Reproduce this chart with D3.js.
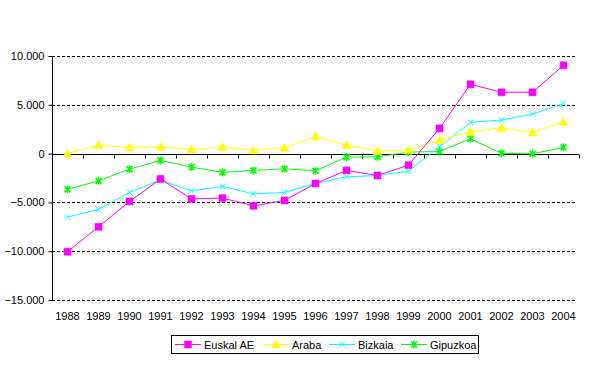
<!DOCTYPE html>
<html>
<head>
<meta charset="utf-8">
<script src="https://cdn.jsdelivr.net/npm/d3@7"></script>
<style>
  body { margin: 0; background: #fff; }
  text { font-family: "Liberation Sans", Arial, sans-serif; font-size: 11px; fill: #000; }
</style>
</head>
<body>
<div id="chart-area"></div>
<script>
let years = ["1988","1989","1990","1991","1992","1993","1994","1995","1996",
             "1997","1998","1999","2000","2001","2002","2003","2004"]

let euskalAE = [-10050, -7500, -4900, -2600, -4640, -4560, -5350, -4800, -3060,
                -1720, -2240, -1180, 2580, 7100, 6280, 6280, 9050]
let araba    = [0, 870, 640, 700, 430, 670, 330, 600, 1760,
                870, 260, 360, 1380, 2240, 2650, 2170, 3260]
let bizkaia  = [-6510, -5720, -3980, -2720, -3810, -3370, -4120, -3980, -3060,
                -2380, -2240, -1800, 700, 3200, 3440, 4050, 5110]
let gipuzkoa = [-3670, -2790, -1590, -700, -1380, -1930, -1720, -1560, -1760,
                -360, -330, 150, 220, 1520, 20, -20, 640]

let yTicks = [-15000, -10000, -5000, 0, 5000, 10000]

let series = [
    { name: "Euskal AE", values: euskalAE, color: "#ff00ff", marker: "square" },
    { name: "Araba", values: araba, color: "#ffff00", marker: "triangle" },
    { name: "Bizkaia", values: bizkaia, color: "#00ffff", marker: "cross" },
    { name: "Gipuzkoa", values: gipuzkoa, color: "#00ff00", marker: "star" }
]

let width = 596
let height = 365

let svg = d3.select("#chart-area")
            .append('svg')
            .attr('width', width)
            .attr('height', height)

let xScale = d3.scaleBand()
                .domain(years)
                .range([52, 579])

let yScale = d3.scaleLinear()
                .domain([-15000, 10000])
                .range([300, 56])

let fmt = d3.formatLocale({ decimal: ",", thousands: ".", grouping: [3], currency: ["", ""] }).format(",")

// gridlines
svg.selectAll(".grid")
    .data(yTicks.filter(d => d != 0))
    .enter()
    .append('line')
    .attr('x1', 52)
    .attr('x2', 576)
    .attr('y1', d => Math.round(yScale(d)) + 0.5)
    .attr('y2', d => Math.round(yScale(d)) + 0.5)
    .attr('stroke', '#000')
    .attr('stroke-dasharray', '3,2')
    .attr('shape-rendering', 'crispEdges')

// y axis
let yAxis = d3.axisLeft(yScale)
                .tickValues(yTicks)
                .tickSize(4)
                .tickPadding(4)
                .tickFormat(fmt)

let yG = svg.append('g')
    .attr('transform', 'translate(52.5,0)')
    .call(yAxis)
yG.select('.domain').attr('stroke', '#000').attr('d', 'M0,' + yScale(-15000) + 'V' + yScale(10000))
yG.selectAll('.tick text').attr('font-size', 11).attr('font-family', '"Liberation Sans", Arial, sans-serif').attr('fill', '#000')

// x axis along zero
let xAxis = d3.axisBottom(xScale)
                .tickSize(0)
                .tickFormat('')

let y0 = Math.round(yScale(0)) + 0.5
let xG = svg.append('g')
    .attr('transform', 'translate(0,' + y0 + ')')
    .call(xAxis)
xG.select('.domain').attr('stroke', '#000').attr('d', 'M52,0H579')

svg.selectAll('.xtick')
    .data(years.concat(["end"]))
    .enter()
    .append('line')
    .attr('x1', (d, i) => Math.round(52 + i * xScale.step()) + 0.5)
    .attr('x2', (d, i) => Math.round(52 + i * xScale.step()) + 0.5)
    .attr('y1', y0)
    .attr('y2', y0 + 4)
    .attr('stroke', '#000')

svg.selectAll('.xlabel')
    .data(years)
    .enter()
    .append('text')
    .attr('x', d => xScale(d) + xScale.bandwidth() / 2)
    .attr('y', 320)
    .attr('text-anchor', 'middle')
    .text(d => d)

function markerPath(type, s) {
    if (type == "square") return 'M' + (-s) + ',' + (-s) + 'h' + (2 * s) + 'v' + (2 * s) + 'h' + (-2 * s) + 'Z'
    if (type == "triangle") return 'M0,' + (-s - 1) + 'L' + (s + 1) + ',' + s + 'L' + (-s - 1) + ',' + s + 'Z'
    if (type == "cross") return 'M' + (-s) + ',' + (-s) + 'L' + s + ',' + s + 'M' + (-s) + ',' + s + 'L' + s + ',' + (-s)
    return 'M' + (-s) + ',' + (-s) + 'L' + s + ',' + s + 'M' + (-s) + ',' + s + 'L' + s + ',' + (-s) + 'M0,' + (-s - 1) + 'V' + (s + 1)
}

function drawMarker(g, type, color) {
    if (type == "square" || type == "triangle") {
        g.append('path')
            .attr('d', markerPath(type, 3.5))
            .attr('fill', color)
            .attr('stroke', color)
            .attr('stroke-width', 0.5)
    } else {
        g.append('path')
            .attr('d', markerPath(type, 3))
            .attr('fill', 'none')
            .attr('stroke', color)
            .attr('stroke-width', type == "star" ? 1.6 : 1)
    }
}

let line = d3.line()
    .x((d, i) => xScale(years[i]) + xScale.bandwidth() / 2)
    .y(d => yScale(d))

// draw back to front so Euskal AE sits on top
series.slice().reverse().forEach(s => {
    svg.append('path')
        .attr('d', line(s.values))
        .attr('fill', 'none')
        .attr('stroke', s.color)
        .attr('stroke-width', 1)

    s.values.forEach((v, i) => {
        let g = svg.append('g')
            .attr('transform', 'translate(' + (xScale(years[i]) + xScale.bandwidth() / 2) + ',' + yScale(v) + ')')
        drawMarker(g, s.marker, s.color)
    })
})

// legend
svg.append('rect')
    .attr('x', 171.5)
    .attr('y', 335.5)
    .attr('width', 307)
    .attr('height', 18)
    .attr('fill', '#fff')
    .attr('stroke', '#000')

let legendX = [175, 263, 329, 401]
series.forEach((s, i) => {
    let lx = legendX[i]
    svg.append('line')
        .attr('x1', lx)
        .attr('x2', lx + 26)
        .attr('y1', 344.5)
        .attr('y2', 344.5)
        .attr('stroke', s.color)
    let g = svg.append('g').attr('transform', 'translate(' + (lx + 13) + ',344.5)')
    drawMarker(g, s.marker, s.color)
    svg.append('text')
        .attr('x', lx + 29)
        .attr('y', 348.5)
        .text(s.name)
})
</script>
</body>
</html>
